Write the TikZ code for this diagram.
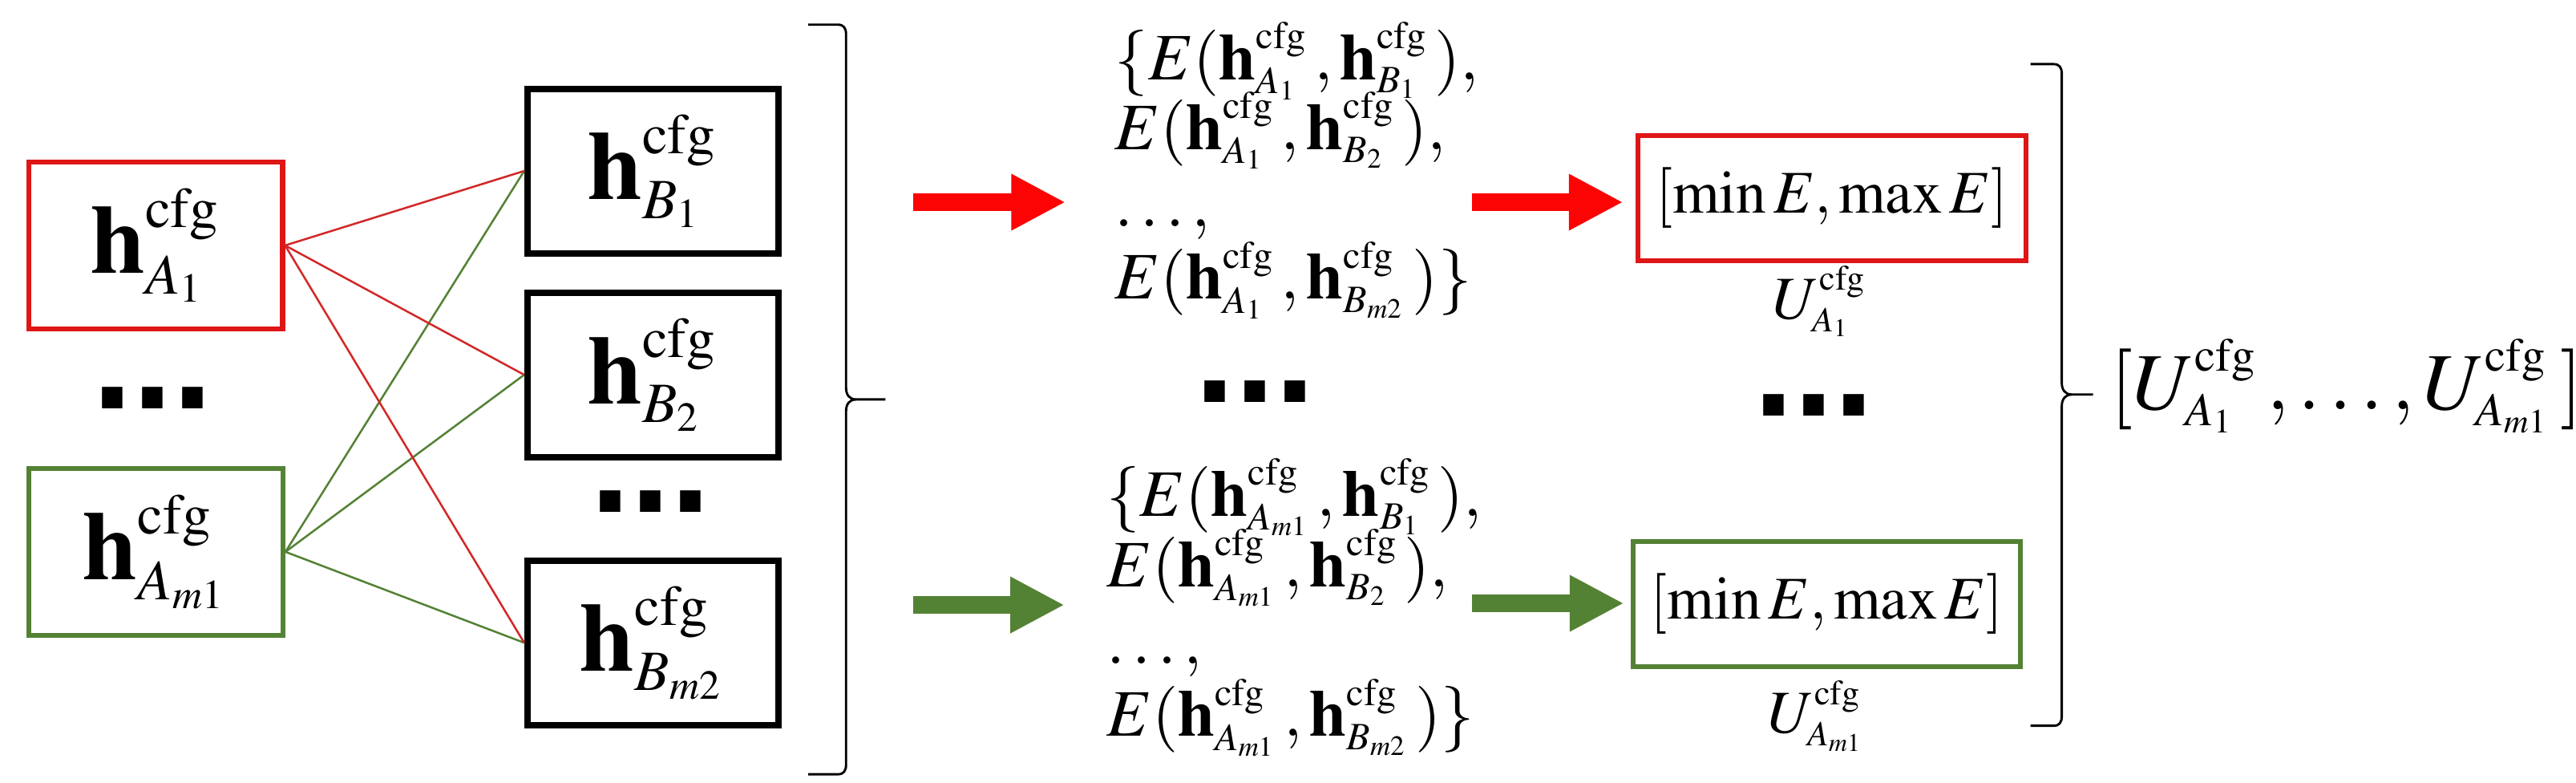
\documentclass[tikz,border=0pt]{standalone}
\usepackage{mathptmx}
\usepackage[no-math]{fontspec}
\newfontfamily\sqdotsfont{Liberation Sans}
\usetikzlibrary{arrows.meta}
\DeclareMathSizes{17}{17}{9.86}{7.14}
\DeclareMathSizes{11.5}{11.5}{6.7}{4.83}
\DeclareMathSizes{10.5}{10.5}{6.1}{4.4}
\DeclareMathSizes{14}{14}{8.12}{5.88}
\definecolor{boxred}{RGB}{222,22,22}
\definecolor{arrred}{RGB}{252,4,4}
\definecolor{linered}{RGB}{210,40,40}
\definecolor{ogreen}{RGB}{84,130,53}
\newcommand{\hcf}[1]{\mathbf{h}^{\mathrm{cfg}}_{#1}}
\newcommand{\Ucf}[1]{U^{\mathrm{cfg}}_{#1}}
\newcommand{\gp}{\mkern1.5mu}
\begin{document}
\begin{tikzpicture}[x=0.1mm,y=-0.1mm,
  abox/.style={draw, line width=0.85pt, minimum width=15.45mm, minimum height=10.15mm, inner sep=0pt, font=\fontsize{17}{20}\selectfont},
  bbox/.style={draw, line width=1.1pt, minimum width=15.3mm, minimum height=10mm, inner sep=0pt, font=\fontsize{17}{20}\selectfont},
  conn/.style={line width=0.35pt},
  bigdots/.style={inner sep=0pt, font=\sqdotsfont\bfseries\fontsize{25}{30}\selectfont},
  mtext/.style={anchor=base west, inner sep=0pt, font=\fontsize{11.5}{13}\selectfont},
  mmbox/.style={draw, line width=0.85pt, minimum width=23.6mm, minimum height=7.6mm, inner sep=0pt, font=\fontsize{10.5}{12.5}\selectfont},
  ulabel/.style={anchor=base, inner sep=0pt, font=\fontsize{10.5}{12.5}\selectfont},
  bigarrow/.style={line width=1.1mm, -{Triangle[length=3.3mm,width=3.2mm]}},
  bracestyle/.style={line width=0.4pt}
]
\useasboundingbox (0,0) rectangle (1568,476);
% left column
\node[abox, draw=boxred] (A1) at (94.8,149.3) {$\hcf{A_1}$};
\node[abox, draw=ogreen] (Am) at (95,335.7) {$\hcf{A_{m1}}$};
\node[bigdots] (dA) at (93,242) {...};
% B column
\node[bbox] (B1) at (397.5,104) {$\hcf{B_1}$};
\node[bbox] (B2) at (397.5,228) {$\hcf{B_2}$};
\node[bbox] (Bm) at (397.5,391) {$\hcf{B_{m2}}$};
\node[bigdots] (dB) at (396,305) {...};
% connectors
\foreach \b in {B1,B2,Bm} {
  \draw[conn, ogreen] (Am.east) -- (\b.west);
  \draw[conn, linered] (A1.east) -- (\b.west);
}
% left brace
\draw[bracestyle] (492,15) -- (510,15) .. controls (513.5,15) and (515,17) .. (515,21) -- (515,236) .. controls (515,240) and (517,243) .. (521,243) -- (539,243);
\draw[bracestyle] (521,243) .. controls (517,243) and (515,246) .. (515,250) -- (515,465) .. controls (515,469) and (513.5,471) .. (510,471) -- (492,471);
% first arrows
\coordinate (r1s) at (556,123);
\coordinate (r1e) at (648.6,123);
\coordinate (g1s) at (556,368);
\coordinate (g1e) at (648,368);
\draw[bigarrow, arrred] (r1s) -- (r1e);
\draw[bigarrow, ogreen] (g1s) -- (g1e);
% middle text blocks
\node[mtext] (t11) at (678,48.6) {$\{E(\hcf{A_1}\gp,\hcf{B_1}\gp),$};
\node[mtext] (t12) at (678,91) {$E(\hcf{A_1}\gp,\hcf{B_2}\gp),$};
\node[mtext] (t13) at (678,138) {$\ldots,$};
\node[mtext] (t14) at (678,182) {$E(\hcf{A_1}\gp,\hcf{B_{m2}}\gp)\}$};
\node[bigdots] (dM) at (764,238) {...};
\node[mtext] (t21) at (673,314) {$\{E(\hcf{A_{m1}}\gp,\hcf{B_1}\gp),$};
\node[mtext] (t22) at (673,357) {$E(\hcf{A_{m1}}\gp,\hcf{B_2}\gp),$};
\node[mtext] (t23) at (673,404) {$\ldots,$};
\node[mtext] (t24) at (673,448) {$E(\hcf{A_{m1}}\gp,\hcf{B_{m2}}\gp)\}$};
% min max boxes
\node[mmbox, draw=boxred] (M1) at (1115,120.5) {$[\min E,\max E]$};
\node[mmbox, draw=ogreen] (M2) at (1112,367.5) {$[\min E,\max E]$};
\node[ulabel] (U1) at (1108,194) {$\Ucf{A_1}$};
\node[ulabel] (U2) at (1106,446) {$\Ucf{A_{m1}}$};
\node[bigdots] (dR) at (1104,246.5) {...};
\coordinate (r2s) at (896,123);
\coordinate (g2s) at (896,367);
\draw[bigarrow, arrred, shorten >=0.75mm] (r2s) -- (r2s -| M1.west);
\draw[bigarrow, ogreen, shorten >=0.4mm] (g2s) -- (g2s -| M2.west);
% right brace
\draw[bracestyle] (1236,39) -- (1250,39) .. controls (1253.5,39) and (1255,41) .. (1255,45) -- (1255,233) .. controls (1255,237) and (1257,240) .. (1261,240) -- (1274,240);
\draw[bracestyle] (1261,240) .. controls (1257,240) and (1255,243) .. (1255,247) -- (1255,435.5) .. controls (1255,439.5) and (1253.5,441.5) .. (1250,441.5) -- (1236,441.5);
% result
\node[anchor=base west, inner sep=0pt, font=\fontsize{14}{17}\selectfont] (R) at (1284,249) {$[\Ucf{A_1}\,,\ldots,\Ucf{A_{m1}}\,]$};
\end{tikzpicture}
\end{document}
